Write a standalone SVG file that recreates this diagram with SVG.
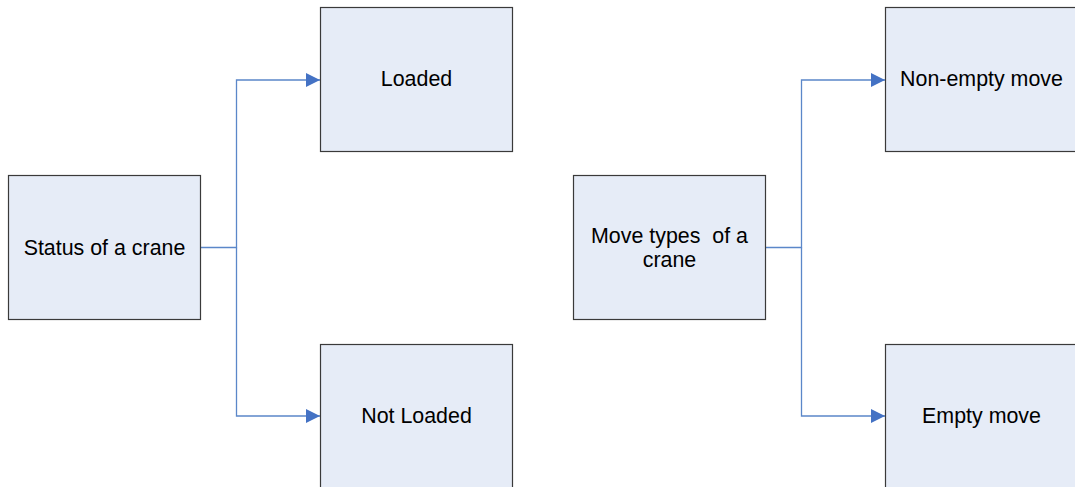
<svg xmlns="http://www.w3.org/2000/svg" width="1075" height="487" viewBox="0 0 1075 487">
<style>
.box{fill:#E6ECF7;stroke:#3a3a3a;stroke-width:1.2}
.lbl{font-family:"Liberation Sans",Arial,sans-serif;font-size:21.4px;fill:#000;text-anchor:middle}
.con{fill:none;stroke:#5B87C9;stroke-width:1.3}
</style>
<defs>
<marker id="arr" viewBox="0 0 14 14" refX="14" refY="7" markerWidth="14" markerHeight="14" markerUnits="userSpaceOnUse" orient="auto">
<path d="M0,0 L14,7 L0,14 Z" fill="#4472C4"/>
</marker>
</defs>
<rect width="1075" height="487" fill="#fff"/>
<g id="connectors">
<path class="con" d="M200.5,247.5 H236.5 V80 H320" marker-end="url(#arr)"/>
<path class="con" d="M236.5,247.5 V416 H320" marker-end="url(#arr)"/>
<path class="con" d="M765.5,247.5 H801.5 V80 H885" marker-end="url(#arr)"/>
<path class="con" d="M801.5,247.5 V416 H885" marker-end="url(#arr)"/>
</g>
<g id="status">
<rect class="box" x="8.5" y="175.5" width="192" height="144"/>
<text class="lbl" x="104.5" y="254.5">Status of a crane</text>
</g>
<g id="loaded">
<rect class="box" x="320.5" y="7.5" width="192" height="144"/>
<text class="lbl" x="416.5" y="85.5">Loaded</text>
</g>
<g id="notloaded">
<rect class="box" x="320.5" y="344.5" width="192" height="150"/>
<text class="lbl" x="416.5" y="422.5">Not Loaded</text>
</g>
<g id="movetypes">
<rect class="box" x="573.5" y="175.5" width="192" height="144"/>
<text class="lbl" x="669.5" y="242.5" xml:space="preserve">Move types  of a</text>
<text class="lbl" x="669.5" y="266.5">crane</text>
</g>
<g id="nonempty">
<rect class="box" x="885.5" y="7.5" width="192" height="144"/>
<text class="lbl" x="981.5" y="86">Non-empty move</text>
</g>
<g id="empty">
<rect class="box" x="885.5" y="344.5" width="192" height="150"/>
<text class="lbl" x="981.5" y="422.5">Empty move</text>
</g>
</svg>
